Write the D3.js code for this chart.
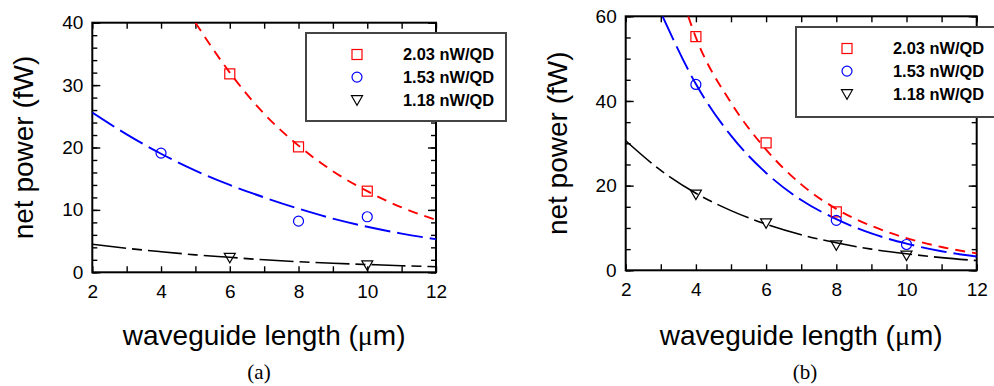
<!DOCTYPE html>
<html>
<head>
<meta charset="utf-8">
<script src="https://cdn.jsdelivr.net/npm/d3@7"></script>
<style>
  body { margin: 0; background: #fff; }
  svg { display: block; }
  .tick text { font-family: "Liberation Sans", Arial, sans-serif; }
</style>
</head>
<body>
<div id="chart"></div>
<script>
// tick labels and legend
const xTicks = [2, 4, 6, 8, 10, 12];
const legendLabels = ["2.03 nW/QD", "1.53 nW/QD", "1.18 nW/QD"];
const seriesColors = ["#ff0000", "#0000ff", "#000000"];

// panel (a) measured points
const aRedX = [6, 8, 10],      aRedY = [31.8, 20.1, 13.0];
const aBlueX = [4, 8, 10],     aBlueY = [19.1, 8.2, 8.9];
const aBlackX = [6, 10],       aBlackY = [2.4, 1.2];
// panel (a) fitted curves
const aRedFitX = [5, 6, 7, 8, 9, 10, 11, 12];
const aRedFitY = [40.0, 32.0, 25.4, 20.3, 16.2, 13.0, 10.4, 8.4];
const aBlueFitX = [2, 3, 4, 5, 6, 7, 8, 9, 10, 11, 12];
const aBlueFitY = [25.6, 22.1, 19.0, 16.3, 14.0, 12.0, 10.2, 8.6, 7.3, 6.2, 5.3];
const aBlackFitX = [2, 3, 4, 5, 6, 7, 8, 9, 10, 11, 12];
const aBlackFitY = [4.5, 3.85, 3.3, 2.8, 2.4, 2.0, 1.7, 1.45, 1.25, 1.05, 0.9];

// panel (b) measured points
const bRedX = [4, 6, 8],       bRedY = [55.2, 30.1, 13.8];
const bBlueX = [4, 8, 10],     bBlueY = [43.9, 11.8, 6.1];
const bBlackX = [4, 6, 8, 10], bBlackY = [18.0, 11.2, 6.0, 3.6];
// panel (b) fitted curves
const bRedFitX = [3.78, 4, 5, 6, 7, 8, 9, 10, 11, 12];
const bRedFitY = [60, 55.0, 39.6, 28.5, 20.3, 14.5, 10.5, 7.6, 5.5, 4.0];
const bBlueFitX = [3.05, 4, 5, 6, 7, 8, 9, 10, 11, 12];
const bBlueFitY = [60, 44.0, 31.8, 23.0, 16.6, 12.1, 8.7, 6.3, 4.5, 3.25];
const bBlackFitX = [2, 3, 4, 5, 6, 7, 8, 9, 10, 11, 12];
const bBlackFitY = [30.6, 23.6, 18.2, 14.1, 10.9, 8.4, 6.5, 5.0, 3.9, 3.0, 2.3];

const zip = (xs, ys) => xs.map((x, i) => [x, ys[i]]);

const svg = d3.select("#chart").append("svg")
    .attr("width", 994)
    .attr("height", 386);

const dashes = ["10,7", "26,7", "34,6,10,6"];

function drawPanel(p) {
    let x = d3.scaleLinear().domain([2, 12]).range([p.left, p.right]);
    let y = d3.scaleLinear().domain([0, p.yMax]).range([p.bottom, p.top]);
    let g = svg.append("g");

    // clip for the fits
    g.append("clipPath").attr("id", "clip" + p.id)
        .append("rect")
        .attr("x", p.left).attr("y", p.top)
        .attr("width", p.right - p.left).attr("height", p.bottom - p.top);

    let minorX = d3.range(2, 13, 1);
    let minorY = d3.range(0, p.yMax + 0.01, p.yMinor);

    // inward ticks on all four sides
    let axes = [
        [d3.axisBottom(x), "translate(0," + p.bottom + ")"],
        [d3.axisTop(x), "translate(0," + p.top + ")"]
    ];
    axes.forEach(a => {
        g.append("g").attr("transform", a[1])
            .call(a[0].tickValues(minorX).tickSize(-6).tickSizeOuter(0).tickFormat(""))
            .call(s => s.select(".domain").remove());
    });
    [[d3.axisLeft(y), "translate(" + p.left + ",0)"], [d3.axisRight(y), "translate(" + p.right + ",0)"]]
        .forEach(a => {
            g.append("g").attr("transform", a[1])
                .call(a[0].tickValues(minorY).tickSize(-5).tickSizeOuter(0).tickFormat(""))
                .call(s => s.select(".domain").remove());
            g.append("g").attr("transform", a[1])
                .call(a[0].tickValues(p.yTicks).tickSize(-8).tickSizeOuter(0).tickFormat(""))
                .call(s => s.select(".domain").remove());
        });
    g.selectAll(".tick line").attr("stroke", "#000").attr("stroke-width", 1.4);

    // tick labels
    g.append("g").attr("transform", "translate(0," + p.bottom + ")")
        .call(d3.axisBottom(x).tickValues(xTicks).tickSize(0).tickPadding(12))
        .call(s => s.select(".domain").remove())
        .selectAll("text").attr("font-size", 19).attr("fill", "#000");
    g.append("g").attr("transform", "translate(" + p.left + ",0)")
        .call(d3.axisLeft(y).tickValues(p.yTicks).tickSize(0).tickPadding(9))
        .call(s => s.select(".domain").remove())
        .selectAll("text").attr("font-size", 19).attr("fill", "#000");

    // frame
    g.append("rect")
        .attr("x", p.left).attr("y", p.top)
        .attr("width", p.right - p.left).attr("height", p.bottom - p.top)
        .attr("fill", "none").attr("stroke", "#000").attr("stroke-width", 2);

    // fits
    let line = d3.line().x(d => x(d[0])).y(d => y(d[1])).curve(d3.curveMonotoneX);
    p.fits.forEach((f, i) => {
        g.append("path")
            .datum(f)
            .attr("clip-path", "url(#clip" + p.id + ")")
            .attr("d", line)
            .attr("fill", "none")
            .attr("stroke", seriesColors[i])
            .attr("stroke-width", i == 2 ? 1.6 : 1.9)
            .attr("stroke-dasharray", dashes[i]);
    });

    // markers
    drawMarkers(g, p.pts[0].map(d => [x(d[0]), y(d[1])]), 0);
    drawMarkers(g, p.pts[1].map(d => [x(d[0]), y(d[1])]), 1);
    drawMarkers(g, p.pts[2].map(d => [x(d[0]), y(d[1])]), 2);

    // axis titles
    g.append("text")
        .attr("x", (p.left + p.right) / 2).attr("y", 345)
        .attr("text-anchor", "middle")
        .attr("font-family", "'Liberation Sans', Arial, sans-serif")
        .attr("font-size", 28)
        .html('waveguide length (<tspan font-family="\'Liberation Serif\', serif">\u03bc</tspan>m)');
    g.append("text")
        .attr("transform", "translate(" + (p.left - 59) + "," + ((p.top + p.bottom) / 2) + ") rotate(-90)")
        .attr("text-anchor", "middle")
        .attr("font-family", "'Liberation Sans', Arial, sans-serif")
        .attr("font-size", 28)
        .text("net power (fW)");
    g.append("text")
        .attr("x", p.capX).attr("y", 379)
        .attr("text-anchor", "middle")
        .attr("font-family", "'Liberation Serif', 'Times New Roman', serif")
        .attr("font-size", 21)
        .text(p.caption);

    // legend
    let lg = g.append("g");
    lg.append("rect")
        .attr("x", p.legX).attr("y", p.legY)
        .attr("width", p.legW).attr("height", p.legH)
        .attr("fill", "#fff").attr("stroke", "#444").attr("stroke-width", 2);
    legendLabels.forEach((t, i) => {
        let cy = p.legY + 21.5 + i * 22.6;
        drawMarkers(lg, [[p.legX + 51, cy]], i);
        lg.append("text")
            .attr("x", p.legX + 97).attr("y", cy + 5.8)
            .attr("font-family", "'Liberation Sans', Arial, sans-serif")
            .attr("font-weight", "bold")
            .attr("font-size", 16.4)
            .text(t);
    });
}

function drawMarkers(g, pts, k) {
    let col = seriesColors[k];
    pts.forEach(([px, py]) => {
        if (k == 0) {
            g.append("rect").attr("x", px - 5).attr("y", py - 5)
                .attr("width", 10).attr("height", 10)
                .attr("fill", "none").attr("stroke", col).attr("stroke-width", 1.2);
        } else if (k == 1) {
            g.append("circle").attr("cx", px).attr("cy", py).attr("r", 5)
                .attr("fill", "none").attr("stroke", col).attr("stroke-width", 1.2);
        } else {
            g.append("path")
                .attr("d", "M" + (px - 5.5) + "," + (py - 4) + "L" + (px + 5.5) + "," + (py - 4) + "L" + px + "," + (py + 5.5) + "Z")
                .attr("fill", "none").attr("stroke", col).attr("stroke-width", 1.2);
        }
    });
}

drawPanel({
    id: "a", left: 92.3, right: 436, top: 22.7, bottom: 272.3,
    yMax: 40, yTicks: [0, 10, 20, 30, 40], yMinor: 2,
    fits: [zip(aRedFitX, aRedFitY), zip(aBlueFitX, aBlueFitY), zip(aBlackFitX, aBlackFitY)],
    pts: [zip(aRedX, aRedY), zip(aBlueX, aBlueY), zip(aBlackX, aBlackY)],
    legX: 306, legY: 33, legW: 200, legH: 88,
    caption: "(a)", capX: 259
});

drawPanel({
    id: "b", left: 625.7, right: 976.7, top: 16.3, bottom: 270.3,
    yMax: 60, yTicks: [0, 20, 40, 60], yMinor: 5,
    fits: [zip(bRedFitX, bRedFitY), zip(bBlueFitX, bBlueFitY), zip(bBlackFitX, bBlackFitY)],
    pts: [zip(bRedX, bRedY), zip(bBlueX, bBlueY), zip(bBlackX, bBlackY)],
    legX: 796, legY: 27, legW: 220, legH: 90,
    caption: "(b)", capX: 805
});
</script>
</body>
</html>
